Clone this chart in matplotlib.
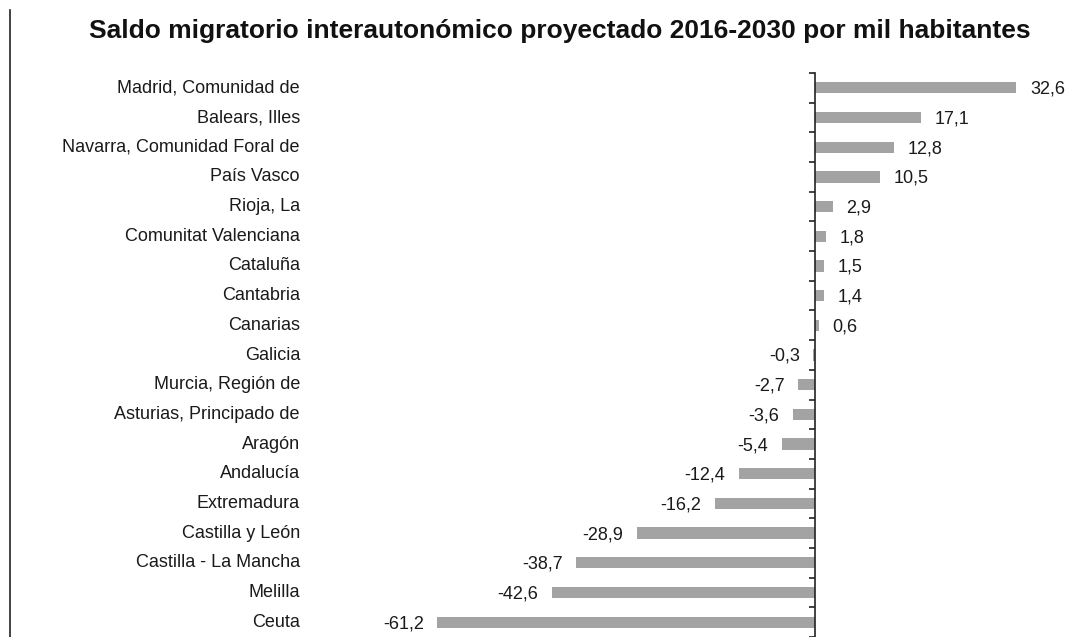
import matplotlib.pyplot as plt
from matplotlib.transforms import blended_transform_factory

# data, top to bottom
regions = ["Madrid, Comunidad de", "Balears, Illes", "Navarra, Comunidad Foral de",
           "País Vasco", "Rioja, La", "Comunitat Valenciana", "Cataluña", "Cantabria",
           "Canarias", "Galicia", "Murcia, Región de", "Asturias, Principado de",
           "Aragón", "Andalucía", "Extremadura", "Castilla y León",
           "Castilla - La Mancha", "Melilla", "Ceuta"]
saldo = [32.6, 17.1, 12.8, 10.5, 2.9, 1.8, 1.5, 1.4, 0.6, -0.3, -2.7, -3.6,
         -5.4, -12.4, -16.2, -28.9, -38.7, -42.6, -61.2]

plt.rcParams['font.family'] = ['Liberation Sans', 'DejaVu Sans']

fig = plt.figure(figsize=(10.83, 6.37), dpi=100)
W, H = 1083, 637
ax = fig.add_axes([420 / W, 0, 1 - 420 / W, (637 - 73) / H])

pos = list(range(len(regions)))
ax.barh(pos, saldo, height=0.38, color='#a3a3a3')
ax.set_xlim(-64.0, 43.4)
ax.set_ylim(len(regions) - 0.5, -0.5)

for s in ['top', 'right', 'bottom']:
    ax.spines[s].set_visible(False)
ax.spines['left'].set_position(('data', 0))
ax.spines['left'].set_color('#222222')
ax.spines['left'].set_linewidth(1.2)
ax.set_xticks([])
ax.set_yticks([p - 0.5 for p in pos] + [len(regions) - 0.5])
ax.set_yticklabels([])
ax.tick_params(axis='y', direction='out', length=4.5, width=1.2, color='#222222')

# category labels in a fixed column on the left
trans = blended_transform_factory(fig.transFigure, ax.transData)
for p, name in zip(pos, regions):
    ax.text(300 / W, p, name, transform=trans, ha='right', va='center',
            fontsize=13, color='#1a1a1a')

# value labels
for p, v in zip(pos, saldo):
    txt = f"{v:.1f}".replace('.', ',')
    if v >= 0:
        ax.text(v + 2.2, p + 0.05, txt, ha='left', va='center', fontsize=13, color='#1a1a1a')
    else:
        ax.text(v - 2.2, p + 0.05, txt, ha='right', va='center', fontsize=13, color='#1a1a1a')

fig.text(560 / W, 1 - 31 / H, "Saldo migratorio interautonómico proyectado 2016-2030 por mil habitantes",
         ha='center', va='center', fontsize=19, fontweight='bold', color='#111111')

# thin vertical rule on the left edge
fig.add_artist(plt.Line2D([10 / W, 10 / W], [0, 1 - 10 / H], transform=fig.transFigure,
                          color='#222222', linewidth=1.2))

fig.savefig('out.png', dpi=100)
